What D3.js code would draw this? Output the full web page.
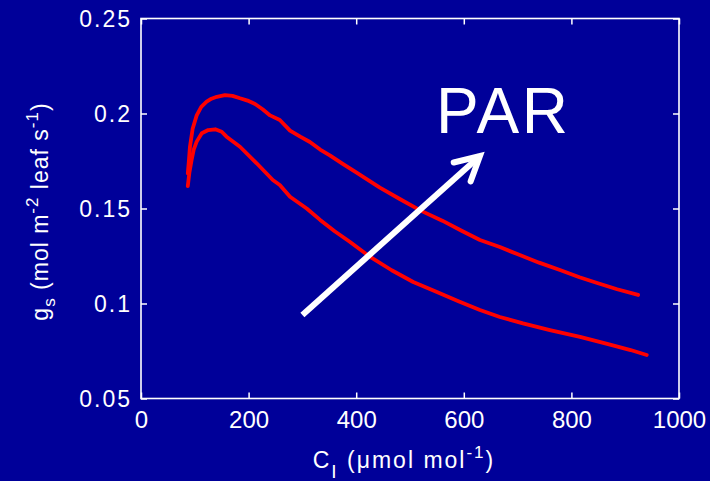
<!DOCTYPE html>
<html><head><meta charset="utf-8">
<script src="https://cdn.jsdelivr.net/npm/d3@7"></script>
<style>
html,body{margin:0;padding:0;background:#000099;}
svg{display:block;}
text{font-family:"Liberation Sans",Arial,Helvetica,sans-serif;fill:#fff;}
</style></head>
<body>
<svg id="chart" width="710" height="481"></svg>
<script>
// Data
const xTicks = [0, 200, 400, 600, 800, 1000];
const yTicks = [0.05, 0.1, 0.15, 0.2, 0.25];
const yTickLabels = ["0.05", "0.1", "0.15", "0.2", "0.25"];

// higher-PAR curve
const ciHigh = [87, 89, 91, 96, 103.5, 112, 122, 131, 141, 156, 170, 184, 198, 212, 226, 240, 258, 277, 296, 314, 333, 351, 375, 400, 444, 481, 519, 560, 595, 630, 667, 704, 740, 780, 815, 848, 885, 924];
const gsHigh = [0.1685, 0.175, 0.1825, 0.192, 0.199, 0.2035, 0.2062, 0.2078, 0.2088, 0.2097, 0.2093, 0.208, 0.2068, 0.205, 0.2022, 0.199, 0.1966, 0.191, 0.1878, 0.185, 0.181, 0.178, 0.1735, 0.169, 0.161, 0.155, 0.149, 0.1436, 0.1384, 0.1334, 0.1297, 0.1255, 0.1215, 0.1175, 0.1138, 0.1108, 0.1075, 0.1045];

// lower-PAR curve
const ciLow = [87, 90, 94, 98, 103.5, 113, 125, 138, 150, 159, 184, 215, 245, 258, 277, 308, 333, 360, 388, 426, 466, 506, 550, 590, 630, 667, 710, 760, 816, 870, 910, 940];
const gsLow = [0.1618, 0.169, 0.1755, 0.181, 0.1852, 0.1896, 0.1913, 0.1917, 0.1904, 0.1878, 0.1825, 0.1738, 0.165, 0.1624, 0.1562, 0.150, 0.144, 0.138, 0.1325, 0.1245, 0.1175, 0.1113, 0.106, 0.1012, 0.0966, 0.0929, 0.0895, 0.086, 0.0824, 0.0785, 0.0755, 0.0729];

// annotation arrow (data coordinates)
const arrowFrom = [300, 0.094];
const arrowTo = [630, 0.1776];
const arrowLabel = "PAR";

const svg = d3.select("#chart");
const W = 710, H = 481;
const m = {left: 141, top: 18.5, right: 31, bottom: 82.5};
const iw = W - m.left - m.right, ih = H - m.top - m.bottom;

svg.append("rect").attr("width", W).attr("height", H).attr("fill", "#000099");

const x = d3.scaleLinear().domain([0, 1000]).range([m.left, m.left + iw]);
const y = d3.scaleLinear().domain([0.05, 0.25]).range([m.top + ih, m.top]);

const g = svg.append("g");

// curves
const line = d3.line().x(d => x(d[0])).y(d => y(d[1])).curve(d3.curveLinear);
[[ciHigh, gsHigh], [ciLow, gsLow]].forEach(([cx, cy]) => {
  g.append("path")
    .datum(cx.map((c, i) => [c, cy[i]]))
    .attr("d", line)
    .attr("fill", "none")
    .attr("stroke", "#ff0000")
    .attr("stroke-width", 3.8)
    .attr("stroke-linejoin", "round")
    .attr("stroke-linecap", "round");
});

// axes (ticks inward on all four sides)
const tl = 6;
const axB = d3.axisBottom(x).tickValues(xTicks).tickSize(-tl).tickPadding(12).tickFormat(d3.format("d"));
const axT = d3.axisTop(x).tickValues(xTicks).tickSize(-tl).tickFormat("");
const axL = d3.axisLeft(y).tickValues(yTicks).tickSize(-tl).tickPadding(11).tickFormat((d, i) => yTickLabels[i]);
const axR = d3.axisRight(y).tickValues(yTicks).tickSize(-tl).tickFormat("");

function style(sel) {
  sel.select(".domain").remove();
  sel.selectAll(".tick line").attr("stroke", "#ffffff").attr("stroke-width", 1.5);
  sel.selectAll("text").attr("fill", "#fff").style("font-family", '"Liberation Sans",Arial,sans-serif');
}
const gb = svg.append("g").attr("transform", `translate(0,${m.top + ih})`).call(axB);
style(gb);
gb.selectAll("text").style("font-size", "24px").attr("dy", "0.71em").attr("y", 12);
const gt = svg.append("g").attr("transform", `translate(0,${m.top})`).call(axT);
style(gt);
const gl = svg.append("g").attr("transform", `translate(${m.left},0)`).call(axL);
style(gl);
gl.selectAll("text").style("font-size", "23px").style("letter-spacing", "2px").attr("dy", "0.35em").attr("x", -9);
const gr = svg.append("g").attr("transform", `translate(${m.left + iw},0)`).call(axR);
style(gr);

// frame
svg.append("rect").attr("x", m.left).attr("y", m.top).attr("width", iw).attr("height", ih)
  .attr("fill", "none").attr("stroke", "#ffffff").attr("stroke-width", 1.6);

// x label
const xl = svg.append("text").attr("x", 404).attr("y", 468).attr("text-anchor", "middle")
  .style("font-size", "23px").style("letter-spacing", "2px");
xl.append("tspan").text("C");
xl.append("tspan").attr("dy", 10).style("font-size", "19px").text("I");
xl.append("tspan").attr("dy", -10).text(" (\u03bcmol mol");
xl.append("tspan").attr("dy", -10).style("font-size", "17px").text("-1");
xl.append("tspan").attr("dy", 10).text(")");

// y label
const yl = svg.append("text").attr("transform", "translate(47.5,211.5) rotate(-90)").attr("text-anchor", "middle")
  .style("font-size", "23px").style("letter-spacing", "1px");
yl.append("tspan").text("g");
yl.append("tspan").attr("dy", 7).style("font-size", "17px").text("s");
yl.append("tspan").attr("dy", -7).text(" (mol m");
yl.append("tspan").attr("dy", -10).style("font-size", "17px").text("-2");
yl.append("tspan").attr("dy", 10).text(" leaf s");
yl.append("tspan").attr("dy", -10).style("font-size", "17px").text("-1");
yl.append("tspan").attr("dy", 10).text(")");

// arrow
const x0 = x(arrowFrom[0]), y0 = y(arrowFrom[1]), x1 = x(arrowTo[0]), y1 = y(arrowTo[1]);
const ang = Math.atan2(y1 - y0, x1 - x0);
const hl = 27, ha = 28 * Math.PI / 180;
const ag = svg.append("g").attr("stroke", "#ffffff").attr("stroke-width", 6).attr("stroke-linecap", "round").attr("fill", "none");
ag.append("line").attr("x1", x0).attr("y1", y0).attr("x2", x1).attr("y2", y1).attr("stroke-linecap", "butt");
ag.append("path").attr("stroke-linejoin", "miter")
  .attr("d", `M${x1 - hl * Math.cos(ang - ha)},${y1 - hl * Math.sin(ang - ha)}L${x1},${y1}L${x1 - hl * Math.cos(ang + ha)},${y1 - hl * Math.sin(ang + ha)}`);

svg.append("text").attr("x", 436).attr("y", 133).style("font-size", "64px").style("letter-spacing", "2.5px").text(arrowLabel);
</script>
</body></html>
